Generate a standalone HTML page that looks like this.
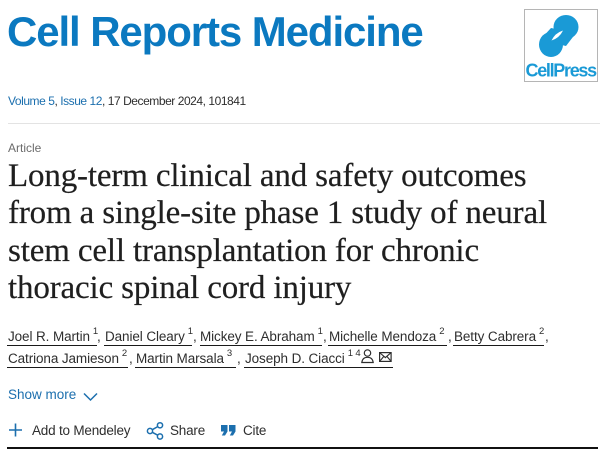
<!DOCTYPE html>
<html>
<head>
<meta charset="utf-8">
<style>
  html,body{margin:0;padding:0;background:#fff;}
  body{width:609px;height:453px;position:relative;overflow:hidden;font-family:"Liberation Sans",Arial,sans-serif;}
  .a{position:absolute;white-space:nowrap;}
  .jt{left:7px;top:11.4px;font-size:42px;line-height:42px;font-weight:bold;color:#0b79c0;letter-spacing:-1.1px;}
  .vol{left:8px;top:95.3px;font-size:12px;line-height:12px;color:#2e2e2e;letter-spacing:-0.45px;}
  .vol .l{color:#1c6fae;}
  .sep{left:8px;top:123px;width:592px;height:1px;background:#e3e3e3;}
  .art{left:8px;top:141.8px;font-size:12px;line-height:12px;color:#6b6b6b;}
  .title{left:8px;top:158.2px;font-family:"Liberation Serif","Times New Roman",serif;font-size:33px;line-height:37.3px;color:#1f1f1f;letter-spacing:-0.15px;-webkit-text-stroke:0.2px #1f1f1f;}
  .au{font-size:13.5px;line-height:13.5px;color:#2e2e2e;letter-spacing:-0.1px;}
  .au sup{font-size:9.5px;line-height:0;position:relative;top:-1px;vertical-align:super;margin-left:3px;}
  .ul{position:absolute;height:1px;background:#1a1a1a;}
  .cm{font-size:13.5px;line-height:13.5px;color:#2e2e2e;}
  .sm{left:8px;top:387.6px;font-size:13.5px;line-height:13.5px;color:#1c6fae;}
  .act{top:423.6px;font-size:13.5px;line-height:13.5px;color:#2e2e2e;letter-spacing:-0.2px;}
  .bot{left:7px;top:447px;width:591px;height:2px;background:#111;}
</style>
</head>
<body>
  <div class="a jt">Cell Reports Medicine</div>

  <!-- CellPress logo -->
  <svg class="a" style="left:0;top:0" width="609" height="100" viewBox="0 0 609 100">
    <rect x="524.5" y="9.5" width="73" height="72" fill="#fff" stroke="#b5b5b5" stroke-width="1"/>
    <g fill="#1a9ad6">
      <ellipse cx="566" cy="27" rx="12.5" ry="12"/>
      <ellipse cx="551" cy="44.5" rx="12" ry="12.5"/>
      <polygon points="551,28 576,33 566,46 540,40"/>
    </g>
    <path d="M551.5 40.5 Q555 33 563 30.5 Q559.5 38 551.5 40.5 Z" fill="#fff"/>
    <text x="525.5" y="76.5" font-family="Liberation Sans, Arial, sans-serif" font-weight="bold" font-size="18" fill="#1a9ad6" letter-spacing="-1.3">CellPress</text>
  </svg>

  <div class="a vol"><span class="l">Volume 5</span>, <span class="l">Issue 12</span>, 17 December 2024, 101841</div>
  <div class="a sep"></div>

  <div class="a art">Article</div>
  <div class="a title">Long-term clinical and safety outcomes<br>from a single-site phase 1 study of neural<br>stem cell transplantation for chronic<br>thoracic spinal cord injury</div>

  <!-- Authors line 1 -->
  <div class="a au" style="left:8px;top:329.6px;">Joel R. Martin<sup>1</sup></div>
  <div class="ul" style="left:7px;top:344.5px;width:90px;"></div>
  <div class="a cm" style="left:97px;top:329.6px;">,</div>

  <div class="a au" style="left:105px;top:329.6px;">Daniel Cleary<sup>1</sup></div>
  <div class="ul" style="left:104px;top:344.5px;width:88px;"></div>
  <div class="a cm" style="left:193px;top:329.6px;">,</div>

  <div class="a au" style="left:200px;top:329.6px;">Mickey E. Abraham<sup>1</sup></div>
  <div class="ul" style="left:200px;top:344.5px;width:122px;"></div>
  <div class="a cm" style="left:323px;top:329.6px;">,</div>

  <div class="a au" style="left:329px;top:329.6px;">Michelle Mendoza<sup>2</sup></div>
  <div class="ul" style="left:328px;top:344.5px;width:119px;"></div>
  <div class="a cm" style="left:448px;top:329.6px;">,</div>

  <div class="a au" style="left:454px;top:329.6px;">Betty Cabrera<sup>2</sup></div>
  <div class="ul" style="left:453px;top:344.5px;width:91px;"></div>
  <div class="a cm" style="left:545px;top:329.6px;">,</div>

  <!-- Authors line 2 -->
  <div class="a au" style="left:8px;top:351.6px;">Catriona Jamieson<sup>2</sup></div>
  <div class="ul" style="left:7px;top:366.8px;width:121px;"></div>
  <div class="a cm" style="left:129px;top:351.6px;">,</div>

  <div class="a au" style="left:136px;top:351.6px;">Martin Marsala<sup>3</sup></div>
  <div class="ul" style="left:135px;top:366.8px;width:101px;"></div>
  <div class="a cm" style="left:237px;top:351.6px;">,</div>

  <div class="a au" style="left:245px;top:351.6px;">Joseph D. Ciacci<sup>1 4</sup></div>
  <div class="ul" style="left:244px;top:366.8px;width:149px;"></div>
  <svg class="a" style="left:360px;top:348px" width="34" height="18" viewBox="0 0 34 18">
    <circle cx="7.5" cy="5" r="3.2" fill="none" stroke="#2e2e2e" stroke-width="1.2"/>
    <path d="M1.8 14.5 Q2.5 9.3 7.5 9.3 Q12.5 9.3 13.2 14.5 Z" fill="none" stroke="#2e2e2e" stroke-width="1.2"/>
    <rect x="19.6" y="4.6" width="11.5" height="8.8" fill="none" stroke="#2e2e2e" stroke-width="1.2"/>
    <path d="M19.6 4.6 L25.35 9.6 L31.1 4.6 M19.6 13.4 L23.8 8.4 M31.1 13.4 L26.9 8.4" fill="none" stroke="#2e2e2e" stroke-width="1.1"/>
  </svg>

  <!-- Show more -->
  <div class="a sm">Show more</div>
  <svg class="a" style="left:82px;top:390px" width="18" height="14" viewBox="0 0 18 14">
    <path d="M2 3.5 L8.5 10 L15 3.5" fill="none" stroke="#1c6fae" stroke-width="1.5"/>
  </svg>

  <!-- Actions -->
  <svg class="a" style="left:0;top:418px" width="270" height="24" viewBox="0 0 270 24">
    <path d="M15.5 5.5 V18.5 M9 12 H22" stroke="#1c6fae" stroke-width="1.6" fill="none"/>
    <g fill="none" stroke="#1c6fae" stroke-width="1.5">
      <circle cx="150" cy="13" r="2.6"/>
      <circle cx="160" cy="7.3" r="2.6"/>
      <circle cx="160" cy="18.5" r="2.6"/>
      <path d="M152.3 11.7 L157.7 8.6 M152.3 14.3 L157.7 17.2"/>
    </g>
    <g fill="#1c6fae">
      <path d="M221 7 H227.5 V13.5 L225 17.5 H221.8 L224 13.5 H221 Z"/>
      <path d="M229 7 H235.5 V13.5 L233 17.5 H229.8 L232 13.5 H229 Z"/>
    </g>
  </svg>
  <div class="a act" style="left:32px;">Add to Mendeley</div>
  <div class="a act" style="left:170px;">Share</div>
  <div class="a act" style="left:243px;">Cite</div>

  <div class="a bot"></div>
</body>
</html>
